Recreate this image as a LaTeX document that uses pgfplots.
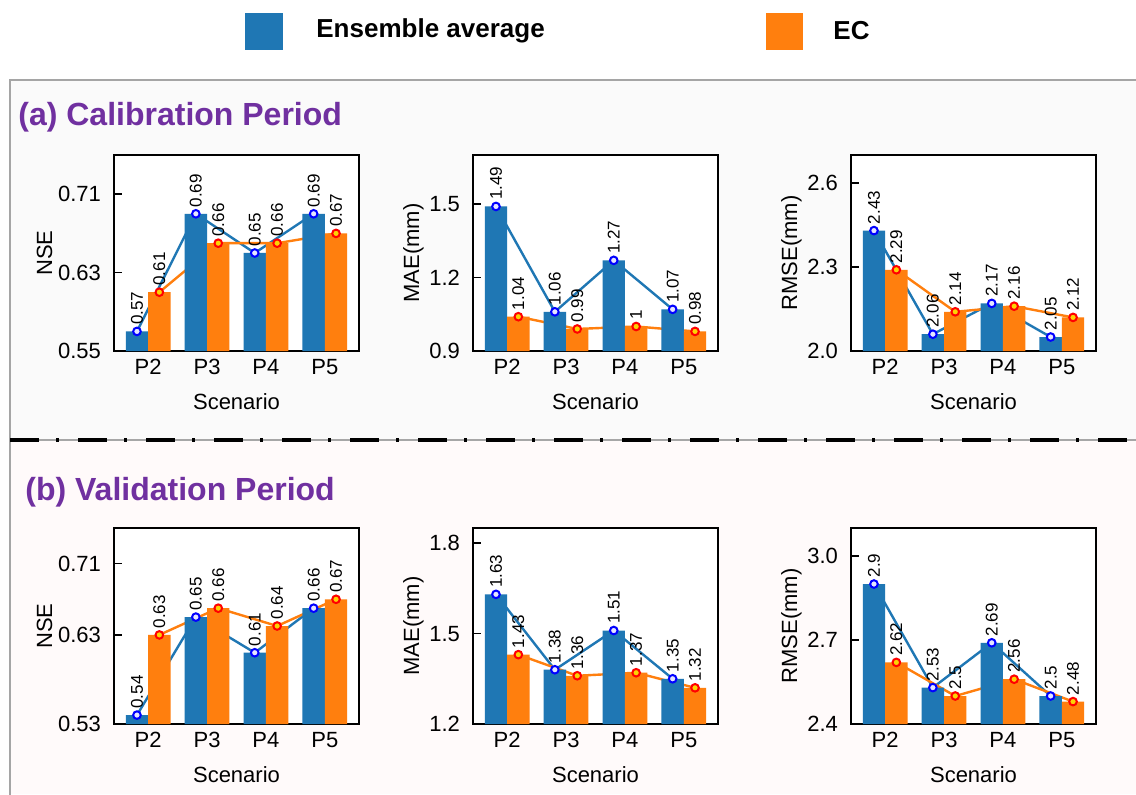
\documentclass[border=0pt]{standalone}
\usepackage{pgfplots}
\pgfplotsset{compat=1.18}
\usepackage{fontspec}
\setmainfont{Liberation Sans}
\definecolor{C0}{RGB}{31,119,180}
\definecolor{C1}{RGB}{255,127,14}
\definecolor{ttl}{RGB}{112,48,160}
\definecolor{bga}{RGB}{250,250,250}
\definecolor{bgb}{RGB}{255,250,250}
\definecolor{frm}{RGB}{165,165,165}
\pgfplotsset{
  panel/.style={
    scale only axis, width=122.5pt, height=98pt, anchor=south west,
    xmin=-0.58, xmax=3.58,
    xtick={0,1,2,3}, xticklabels={P2,P3,P4,P5},
    tick pos=left,
    tick align=inside, major tick length=4pt,
    tick style={black, line width=0.8pt},
    axis line style={black, line width=0.85pt},
    axis background/.style={fill=white},
    ticklabel style={font=\fontsize{11}{13}\selectfont, black},
    label style={font=\fontsize{11}{13}\selectfont, black},
    xlabel={Scenario},
    yticklabel style={xshift=-3pt},
    xticklabel style={yshift=-0.5pt},
    ylabel style={yshift=-4pt},
    xlabel style={yshift=-2.5pt},
  },
  bl/.style={C0, line width=1.2pt, mark=none},
  ol/.style={C1, line width=1.2pt, mark=none},
  bb/.style={ybar, bar width=0.38, bar shift=0pt, fill=C0, draw=none},
  ob/.style={ybar, bar width=0.38, bar shift=0pt, fill=C1, draw=none},
  lab/.style={point meta=explicit symbolic, nodes near coords,
     every node near coord/.append style={rotate=90, anchor=west, inner xsep=2.8pt, inner ysep=0pt, font=\fontsize{8.5}{10}\selectfont, text=black}},
  bm/.style={only marks, mark=*, mark size=1.9pt, mark options={draw=blue, fill=blue!10, line width=1pt}, lab},
  om/.style={only marks, mark=*, mark size=1.9pt, mark options={draw=red, fill=yellow!70!orange, line width=1pt}, lab},
}
\begin{document}
\begin{tikzpicture}
\useasboundingbox (0,0) rectangle (568pt,397pt);
% backgrounds
\fill[white] (0,0) rectangle (568pt,397pt);
\fill[bga] (5pt,177pt) rectangle (568pt,357pt);
\fill[bgb] (5pt,0pt) rectangle (568pt,177pt);
\draw[frm, line width=1.1pt] (570pt,357pt) -- (5pt,357pt) -- (5pt,-2pt);
% separator
\draw[gray!70, line width=0.9pt] (5pt,177pt) -- (568pt,177pt);
\draw[black, line width=2pt, dash pattern=on 14.5pt off 8.5pt on 1.5pt off 9.5pt] (5pt,177pt) -- (568pt,177pt);
% legend
\fill[C0] (122.5pt,372pt) rectangle (141.5pt,390.5pt);
\node[anchor=west, inner sep=0pt, font=\fontsize{13}{15}\selectfont\bfseries] at (158pt,381.5pt) {Ensemble average};
\fill[C1] (383pt,372pt) rectangle (401.5pt,390.5pt);
\node[anchor=west, inner sep=0pt, font=\fontsize{13}{15}\selectfont\bfseries] at (416.5pt,381.5pt) {EC};
% titles
\node[anchor=base west, inner sep=0pt, text=ttl, font=\fontsize{16}{18}\selectfont\bfseries] at (9pt,334pt) {(a) Calibration Period};
\node[anchor=base west, inner sep=0pt, text=ttl, font=\fontsize{16}{18}\selectfont\bfseries] at (12.5pt,146.5pt) {(b) Validation Period};

% ---------- (a) NSE
\begin{axis}[panel, at={(57pt,221.5pt)}, ymin=0.55, ymax=0.75,
  ytick={0.55,0.63,0.71}, yticklabels={0.55,0.63,0.71}, ylabel={NSE}]
\addplot[bl] coordinates {(-0.19,0.57) (0.81,0.69) (1.81,0.65) (2.81,0.69)};
\addplot[ol] coordinates {(0.19,0.61) (1.19,0.66) (2.19,0.66) (3.19,0.67)};
\addplot[bb] coordinates {(-0.19,0.57) (0.81,0.69) (1.81,0.65) (2.81,0.69)};
\addplot[ob] coordinates {(0.19,0.61) (1.19,0.66) (2.19,0.66) (3.19,0.67)};
\addplot[bm] coordinates {(-0.19,0.57)[0.57] (0.81,0.69)[0.69] (1.81,0.65)[0.65] (2.81,0.69)[0.69]};
\addplot[om] coordinates {(0.19,0.61)[0.61] (1.19,0.66)[0.66] (2.19,0.66)[0.66] (3.19,0.67)[0.67]};
\end{axis}
% ---------- (a) MAE
\begin{axis}[panel, at={(236.5pt,221.5pt)}, ymin=0.9, ymax=1.70,
  ytick={0.9,1.2,1.5}, yticklabels={0.9,1.2,1.5}, ylabel={MAE(mm)}]
\addplot[bl] coordinates {(-0.19,1.49) (0.81,1.06) (1.81,1.27) (2.81,1.07)};
\addplot[ol] coordinates {(0.19,1.04) (1.19,0.99) (2.19,1.00) (3.19,0.98)};
\addplot[bb] coordinates {(-0.19,1.49) (0.81,1.06) (1.81,1.27) (2.81,1.07)};
\addplot[ob] coordinates {(0.19,1.04) (1.19,0.99) (2.19,1.00) (3.19,0.98)};
\addplot[bm] coordinates {(-0.19,1.49)[1.49] (0.81,1.06)[1.06] (1.81,1.27)[1.27] (2.81,1.07)[1.07]};
\addplot[om] coordinates {(0.19,1.04)[1.04] (1.19,0.99)[0.99] (2.19,1.00)[1] (3.19,0.98)[0.98]};
\end{axis}
% ---------- (a) RMSE
\begin{axis}[panel, at={(425.5pt,221.5pt)}, ymin=2.0, ymax=2.70,
  ytick={2.0,2.3,2.6}, yticklabels={2.0,2.3,2.6}, ylabel={RMSE(mm)}]
\addplot[bl] coordinates {(-0.19,2.43) (0.81,2.06) (1.81,2.17) (2.81,2.05)};
\addplot[ol] coordinates {(0.19,2.29) (1.19,2.14) (2.19,2.16) (3.19,2.12)};
\addplot[bb] coordinates {(-0.19,2.43) (0.81,2.06) (1.81,2.17) (2.81,2.05)};
\addplot[ob] coordinates {(0.19,2.29) (1.19,2.14) (2.19,2.16) (3.19,2.12)};
\addplot[bm] coordinates {(-0.19,2.43)[2.43] (0.81,2.06)[2.06] (1.81,2.17)[2.17] (2.81,2.05)[2.05]};
\addplot[om] coordinates {(0.19,2.29)[2.29] (1.19,2.14)[2.14] (2.19,2.16)[2.16] (3.19,2.12)[2.12]};
\end{axis}

% ---------- (b) NSE
\begin{axis}[panel, at={(57pt,35pt)}, ymin=0.53, ymax=0.75,
  ytick={0.53,0.63,0.71}, yticklabels={0.53,0.63,0.71}, ylabel={NSE}]
\addplot[bl] coordinates {(-0.19,0.54) (0.81,0.65) (1.81,0.61) (2.81,0.66)};
\addplot[ol] coordinates {(0.19,0.63) (1.19,0.66) (2.19,0.64) (3.19,0.67)};
\addplot[bb] coordinates {(-0.19,0.54) (0.81,0.65) (1.81,0.61) (2.81,0.66)};
\addplot[ob] coordinates {(0.19,0.63) (1.19,0.66) (2.19,0.64) (3.19,0.67)};
\addplot[bm] coordinates {(-0.19,0.54)[0.54] (0.81,0.65)[0.65] (1.81,0.61)[0.61] (2.81,0.66)[0.66]};
\addplot[om] coordinates {(0.19,0.63)[0.63] (1.19,0.66)[0.66] (2.19,0.64)[0.64] (3.19,0.67)[0.67]};
\end{axis}
% ---------- (b) MAE
\begin{axis}[panel, at={(236.5pt,35pt)}, ymin=1.2, ymax=1.85,
  ytick={1.2,1.5,1.8}, yticklabels={1.2,1.5,1.8}, ylabel={MAE(mm)}]
\addplot[bl] coordinates {(-0.19,1.63) (0.81,1.38) (1.81,1.51) (2.81,1.35)};
\addplot[ol] coordinates {(0.19,1.43) (1.19,1.36) (2.19,1.37) (3.19,1.32)};
\addplot[bb] coordinates {(-0.19,1.63) (0.81,1.38) (1.81,1.51) (2.81,1.35)};
\addplot[ob] coordinates {(0.19,1.43) (1.19,1.36) (2.19,1.37) (3.19,1.32)};
\addplot[bm] coordinates {(-0.19,1.63)[1.63] (0.81,1.38)[1.38] (1.81,1.51)[1.51] (2.81,1.35)[1.35]};
\addplot[om] coordinates {(0.19,1.43)[1.43] (1.19,1.36)[1.36] (2.19,1.37)[1.37] (3.19,1.32)[1.32]};
\end{axis}
% ---------- (b) RMSE
\begin{axis}[panel, at={(425.5pt,35pt)}, ymin=2.4, ymax=3.10,
  ytick={2.4,2.7,3.0}, yticklabels={2.4,2.7,3.0}, ylabel={RMSE(mm)}]
\addplot[bl] coordinates {(-0.19,2.90) (0.81,2.53) (1.81,2.69) (2.81,2.50)};
\addplot[ol] coordinates {(0.19,2.62) (1.19,2.50) (2.19,2.56) (3.19,2.48)};
\addplot[bb] coordinates {(-0.19,2.90) (0.81,2.53) (1.81,2.69) (2.81,2.50)};
\addplot[ob] coordinates {(0.19,2.62) (1.19,2.50) (2.19,2.56) (3.19,2.48)};
\addplot[bm] coordinates {(-0.19,2.90)[2.9] (0.81,2.53)[2.53] (1.81,2.69)[2.69] (2.81,2.50)[2.5]};
\addplot[om] coordinates {(0.19,2.62)[2.62] (1.19,2.50)[2.5] (2.19,2.56)[2.56] (3.19,2.48)[2.48]};
\end{axis}
\end{tikzpicture}
\end{document}
